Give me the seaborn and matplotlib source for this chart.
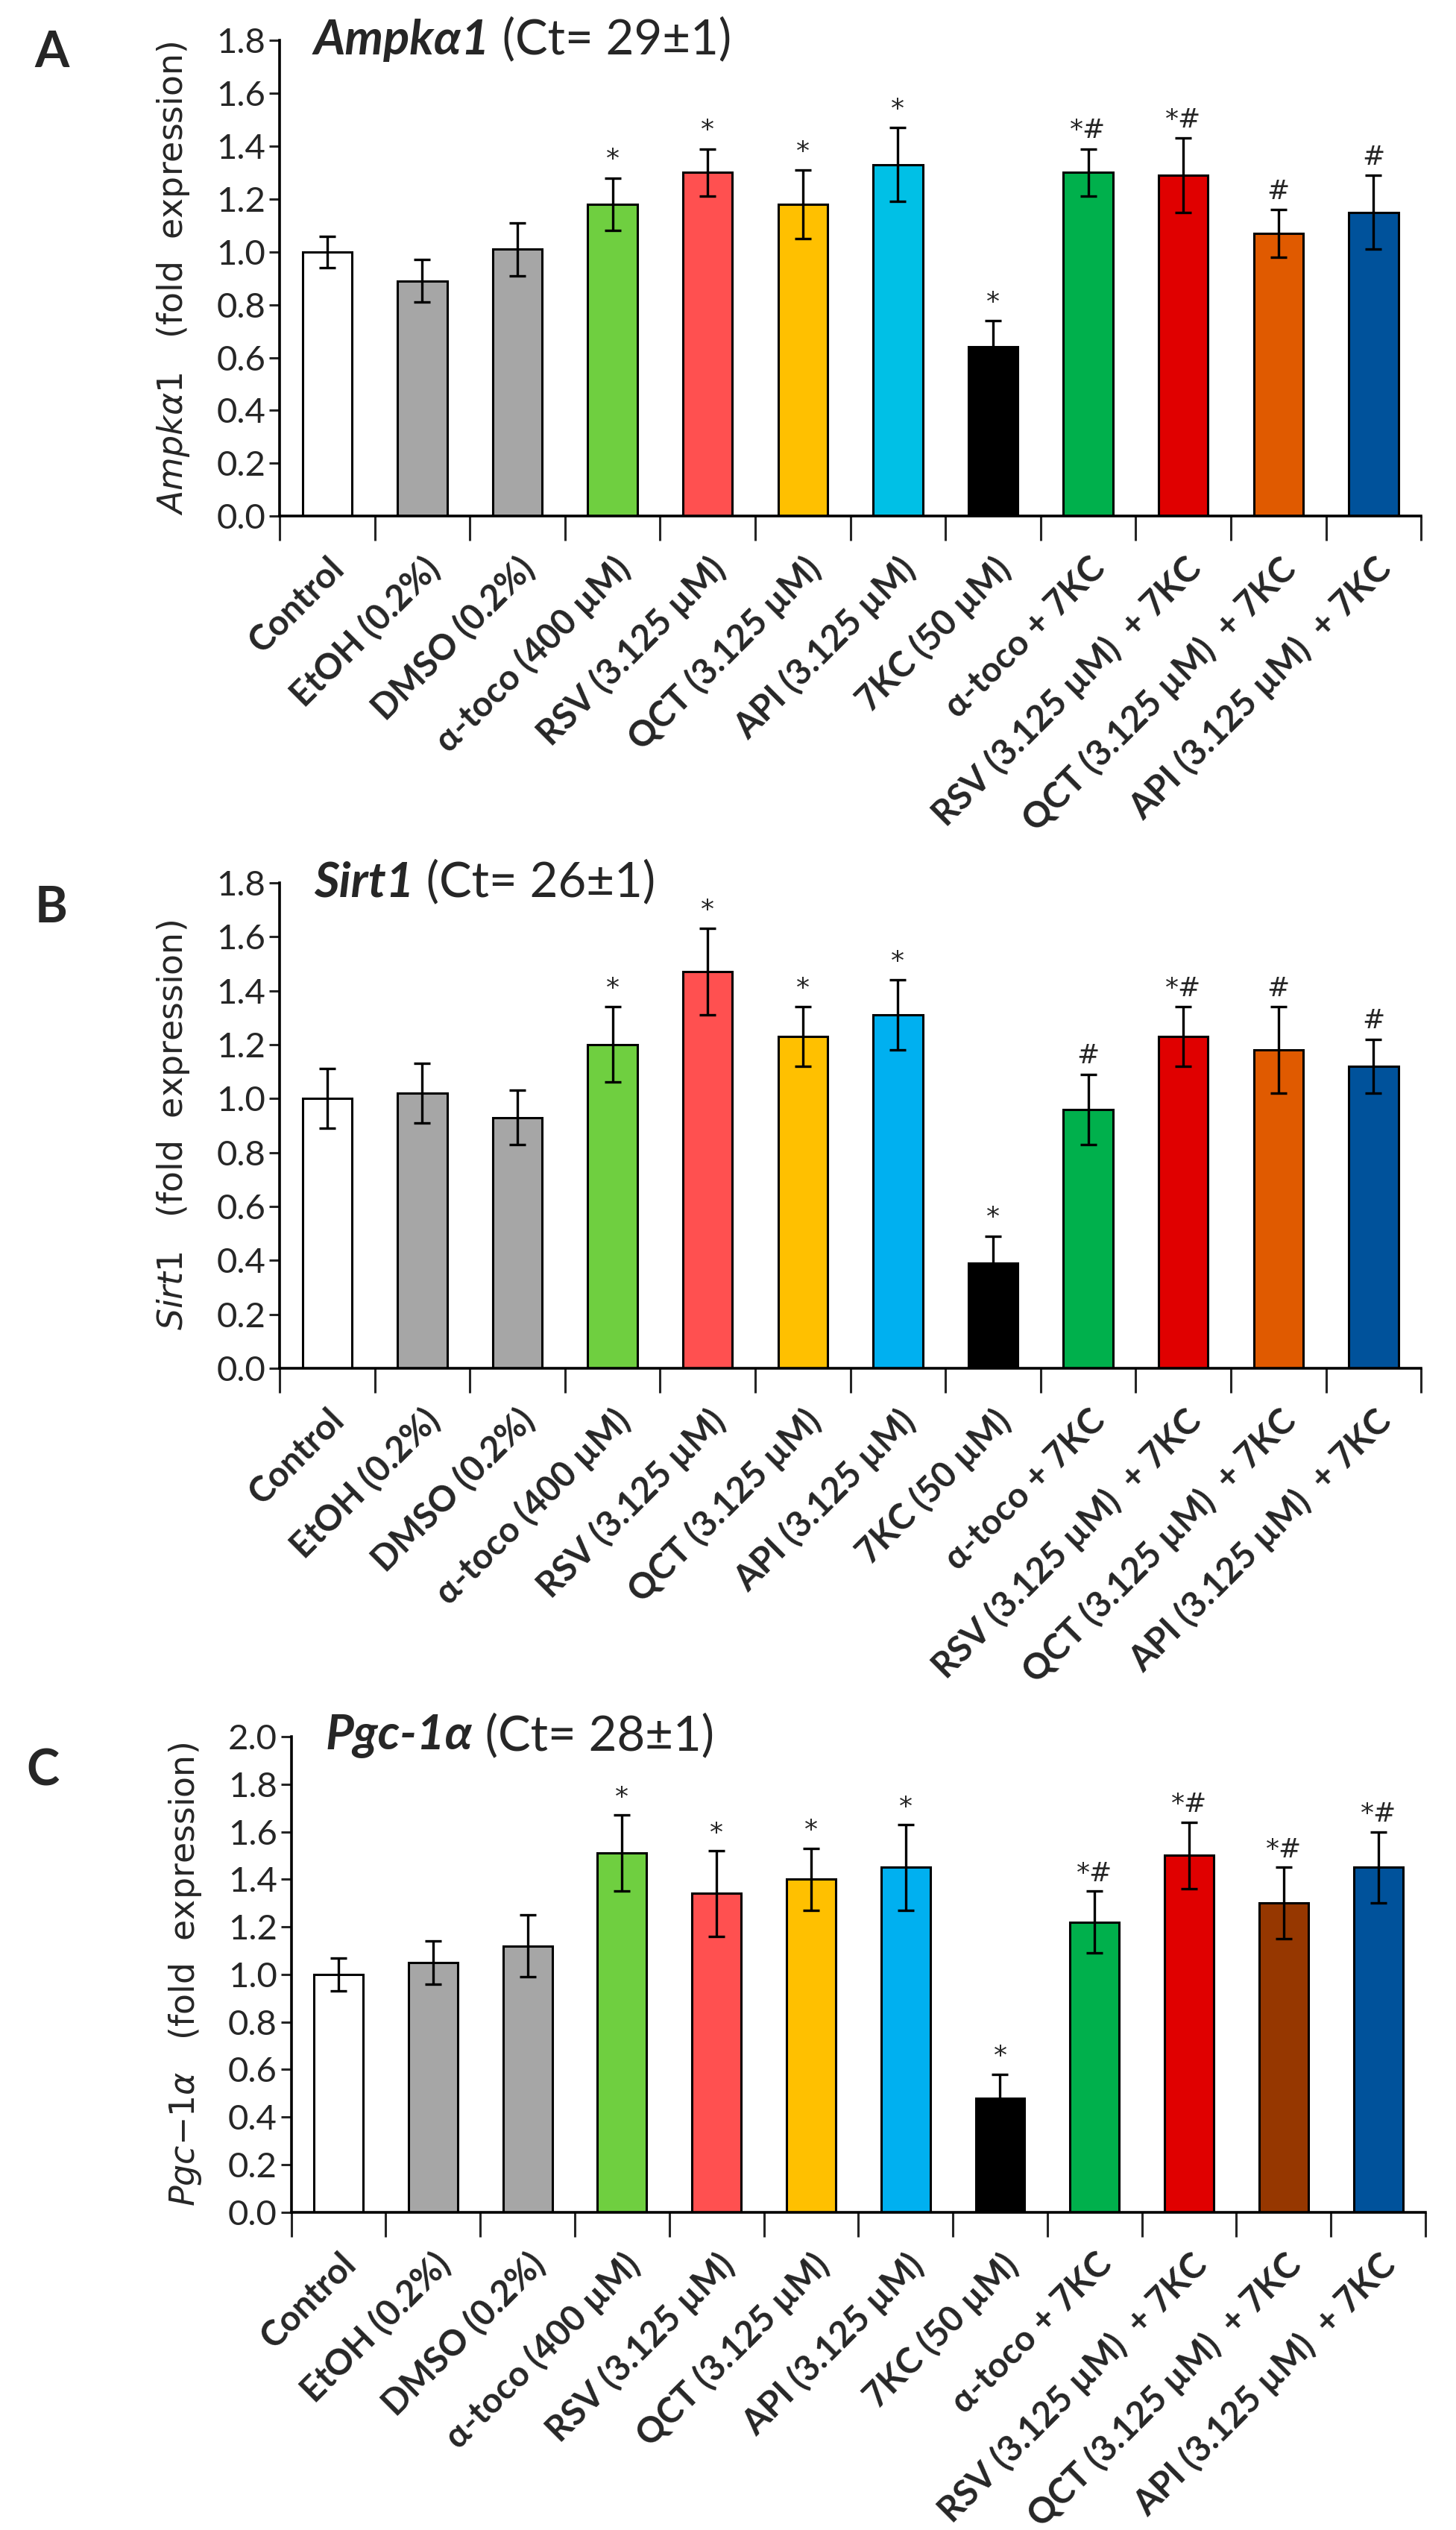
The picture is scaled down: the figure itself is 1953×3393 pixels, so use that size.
import numpy as np
import pandas as pd
import matplotlib
matplotlib.use('Agg')
import matplotlib.pyplot as plt
from matplotlib.ticker import FixedLocator, FormatStrFormatter
import seaborn as sns

sns.set_style('white')
plt.rcParams['font.family'] = ['Lato', 'DejaVu Sans']

# categories
labels = ['Control', 'EtOH (0.2%)', 'DMSO (0.2%)', 'α-toco (400 µM)', 'RSV (3.125 µM)',
          'QCT (3.125 µM)', 'API (3.125 µM)', '7KC (50 µM)', 'α-toco + 7KC',
          'RSV (3.125 µM)  + 7KC', 'QCT (3.125 µM)  + 7KC', 'API (3.125 µM)  + 7KC']

# panel A - Ampka1
ampk_mean = [1.00, 0.89, 1.01, 1.18, 1.30, 1.18, 1.33, 0.64, 1.30, 1.29, 1.07, 1.15]
ampk_err = [0.06, 0.08, 0.10, 0.10, 0.09, 0.13, 0.14, 0.10, 0.09, 0.14, 0.09, 0.14]
ampk_sig = ['', '', '', '*', '*', '*', '*', '*', '*#', '*#', '#', '#']
ampk_colors = ['#FFFFFF', '#A6A6A6', '#A6A6A6', '#6FCF40', '#FF5050', '#FFC000', '#00C0E6',
               '#000000', '#00B04C', '#E00000', '#E05A00', '#00529B']

# panel B - Sirt1
sirt_mean = [1.00, 1.02, 0.93, 1.20, 1.47, 1.23, 1.31, 0.39, 0.96, 1.23, 1.18, 1.12]
sirt_err = [0.11, 0.11, 0.10, 0.14, 0.16, 0.11, 0.13, 0.10, 0.13, 0.11, 0.16, 0.10]
sirt_sig = ['', '', '', '*', '*', '*', '*', '*', '#', '*#', '#', '#']
sirt_colors = ['#FFFFFF', '#A6A6A6', '#A6A6A6', '#6FCF40', '#FF5050', '#FFC000', '#00B0F0',
               '#000000', '#00B04C', '#E00000', '#E05A00', '#00529B']

# panel C - Pgc-1a
pgc_mean = [1.00, 1.05, 1.12, 1.51, 1.34, 1.40, 1.45, 0.48, 1.22, 1.50, 1.30, 1.45]
pgc_err = [0.07, 0.09, 0.13, 0.16, 0.18, 0.13, 0.18, 0.10, 0.13, 0.14, 0.15, 0.15]
pgc_sig = ['', '', '', '*', '*', '*', '*', '*', '*#', '*#', '*#', '*#']
pgc_colors = ['#FFFFFF', '#A6A6A6', '#A6A6A6', '#6FCF40', '#FF5050', '#FFC000', '#00B0F0',
              '#000000', '#00B04C', '#E00000', '#963700', '#00529B']

fig = plt.figure(figsize=(19.53, 33.93), dpi=100)


def panel(rect, mean, err, sig, colors, gene, gene_txt, ct, ymax, letter, letter_xy):
    ax = fig.add_axes(rect)
    df = pd.DataFrame({'group': labels, 'value': mean})
    sns.barplot(data=df, x='group', y='value', hue='group', order=labels,
                palette=dict(zip(labels, colors)), legend=False, width=0.52,
                edgecolor='black', linewidth=2.2, saturation=1, ax=ax)
    xs = np.arange(len(labels))
    ax.errorbar(xs, mean, yerr=err, fmt='none', ecolor='black', elinewidth=2.4,
                capsize=8, capthick=2.4, zorder=5)
    for x, m, e, s in zip(xs, mean, err, sig):
        if s:
            ax.text(x, m + e + 0.02, s, ha='center', va='bottom', fontsize=26,
                    family='DejaVu Sans')
    ax.set_xlim(-0.5, len(labels) - 0.5)
    ax.set_ylim(0, ymax)
    ax.set_yticks(np.arange(0, ymax + 0.01, 0.2))
    ax.yaxis.set_major_formatter(FormatStrFormatter('%.1f'))
    ax.tick_params(axis='y', direction='out', length=10, width=2.2, labelsize=34, left=True)
    ax.set_xticks(xs)
    ax.set_xticklabels(labels, rotation=45, ha='right', rotation_mode='anchor',
                       fontsize=34, fontweight='bold')
    ax.tick_params(axis='x', which='major', length=0, pad=34)
    ax.xaxis.set_minor_locator(FixedLocator(np.arange(-0.5, len(labels), 1.0)))
    ax.tick_params(axis='x', which='minor', direction='out', length=24, width=2.2, bottom=True)
    for side in ['top', 'right']:
        ax.spines[side].set_visible(False)
    for side in ['left', 'bottom']:
        ax.spines[side].set_linewidth(2.6)
        ax.spines[side].set_color('black')
    ax.set_xlabel('')
    ax.set_ylabel(f'$\\mathit{{{gene}}}$   (fold  expression)', fontsize=33,
                  family='DejaVu Sans', labelpad=24)
    t = ax.text(0.03, 1.0, gene_txt, transform=ax.transAxes, ha='left', va='center',
                fontsize=47, fontweight='bold', style='italic')
    ax.annotate(f' (Ct= {ct})', xy=(1, 0), xycoords=t, ha='left', va='bottom', fontsize=47)
    fig.text(letter_xy[0], letter_xy[1], letter, fontsize=48, fontweight='bold',
             ha='left', va='center')
    return ax


panel([0.192, 0.796, 0.784, 0.188], ampk_mean, ampk_err, ampk_sig, ampk_colors,
      'Ampk\\alpha1', 'Ampkα1', '29±1', 1.8, 'A', (0.024, 0.979))
panel([0.192, 0.4592, 0.784, 0.1919], sirt_mean, sirt_err, sirt_sig, sirt_colors,
      'Sirt1', 'Sirt1', '26±1', 1.8, 'B', (0.024, 0.641))
panel([0.200, 0.1256, 0.779, 0.188], pgc_mean, pgc_err, pgc_sig, pgc_colors,
      'Pgc{-}1\\alpha', 'Pgc-1α', '28±1', 2.0, 'C', (0.018, 0.300))

fig.savefig('out.png', dpi=100, facecolor='white')
